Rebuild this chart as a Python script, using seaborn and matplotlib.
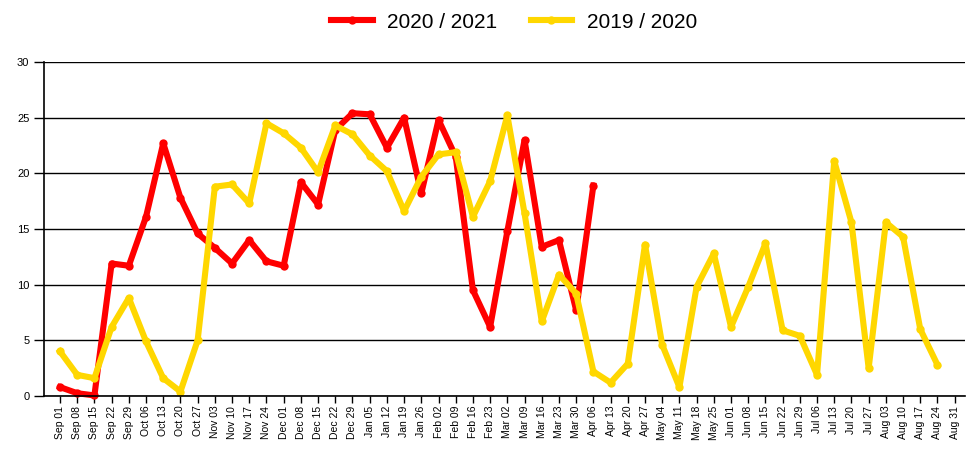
import numpy as np
import pandas as pd
import seaborn as sns
import matplotlib.pyplot as plt

# week labels (Sep 01 .. Aug 31)
weeks = ["Sep 01", "Sep 08", "Sep 15", "Sep 22", "Sep 29", "Oct 06", "Oct 13", "Oct 20", "Oct 27",
         "Nov 03", "Nov 10", "Nov 17", "Nov 24", "Dec 01", "Dec 08", "Dec 15", "Dec 22", "Dec 29",
         "Jan 05", "Jan 12", "Jan 19", "Jan 26", "Feb 02", "Feb 09", "Feb 16", "Feb 23",
         "Mar 02", "Mar 09", "Mar 16", "Mar 23", "Mar 30", "Apr 06", "Apr 13", "Apr 20", "Apr 27",
         "May 04", "May 11", "May 18", "May 25", "Jun 01", "Jun 08", "Jun 15", "Jun 22", "Jun 29",
         "Jul 06", "Jul 13", "Jul 20", "Jul 27", "Aug 03", "Aug 10", "Aug 17", "Aug 24", "Aug 31"]

season_2021 = [0.8, 0.25, 0.05, 11.9, 11.7, 16.1, 22.7, 17.8, 14.6, 13.3, 11.9, 14.0, 12.1, 11.7,
               19.2, 17.2, 23.9, 25.4, 25.3, 22.3, 25.0, 18.2, 24.8, 21.5, 9.5, 6.2, 14.8, 23.0,
               13.4, 14.0, 7.7, 18.9]

season_1920 = [4.0, 1.9, 1.6, 6.2, 8.8, 4.9, 1.6, 0.4, 5.0, 18.8, 19.0, 17.3, 24.5, 23.6, 22.3,
               20.1, 24.3, 23.5, 21.6, 20.2, 16.6, 19.7, 21.7, 21.9, 16.1, 19.3, 25.2, 16.4, 6.7,
               10.9, 9.2, 2.2, 1.2, 2.9, 13.6, 4.6, 0.8, 9.8, 12.8, 6.2, 9.8, 13.7, 5.9, 5.4, 1.9,
               21.1, 15.6, 2.5, 15.6, 14.3, 6.0, 2.8]

series_names = ["2020 / 2021", "2019 / 2020"]
colors = {"2020 / 2021": "#FF0000", "2019 / 2020": "#FFD700"}

df = pd.concat([
    pd.DataFrame({"week": np.arange(len(season_2021)), "value": season_2021, "season": series_names[0]}),
    pd.DataFrame({"week": np.arange(len(season_1920)), "value": season_1920, "season": series_names[1]}),
])

plt.rcParams['font.family'] = ['Liberation Sans', 'DejaVu Sans']

fig = plt.figure(figsize=(9.67, 4.54), dpi=100)
ax = fig.add_axes([44 / 967, 58 / 454, 921 / 967, 334 / 454])

sns.lineplot(data=df, x="week", y="value", hue="season", hue_order=series_names,
             palette=colors, marker="o", markersize=6, markeredgewidth=0,
             linewidth=4.4, ax=ax, clip_on=False, legend=True)

ax.set_xlim(-0.93, 52.6)
ax.set_ylim(0, 30)
ax.set_yticks(np.arange(0, 31, 5))
ax.set_xticks(np.arange(len(weeks)))
ax.set_xticklabels(weeks, rotation=90, fontsize=7.5)
ax.tick_params(axis="y", labelsize=8, length=7, width=1, colors="black")
ax.tick_params(axis="x", length=5, width=1, pad=2)
ax.set_xlabel("")
ax.set_ylabel("")
ax.grid(axis="y", color="black", linewidth=1)
ax.set_axisbelow(True)
for s in ["top", "right"]:
    ax.spines[s].set_visible(False)
ax.spines["left"].set_linewidth(1.2)
ax.spines["bottom"].set_linewidth(1.2)

handles, labels = ax.get_legend_handles_labels()
ax.get_legend().remove()
fig.legend(handles, labels, loc="center", bbox_to_anchor=(514 / 967, 1 - 22 / 454), ncol=2,
           frameon=False, fontsize=15, handlelength=2.0, columnspacing=1.6, handletextpad=0.7)

fig.savefig("out.png", dpi=100)
